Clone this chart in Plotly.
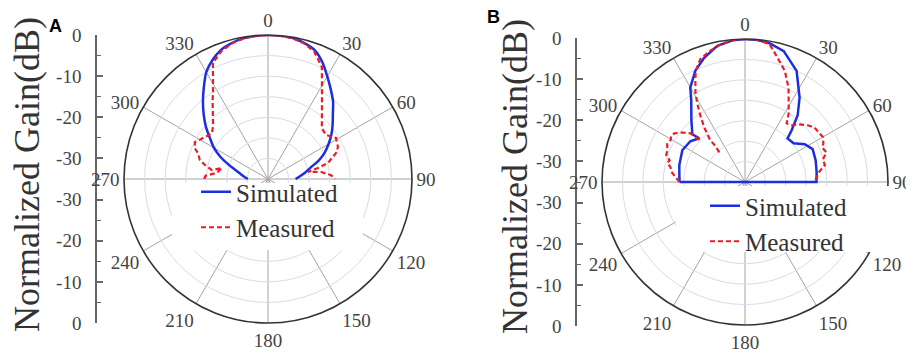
import plotly.graph_objects as go

# ---------------- data ----------------
ANGLE_TICKS = [0, 30, 60, 90, 120, 150, 180, 210, 240, 270, 300, 330]
ANGLE_LABELS = ["0", "30", "60", "90", "120", "150", "180", "210", "240", "270", "300", "330"]

GAIN_TICKVALS = [35, 25, 15, 5, -5, -15, -25, -35]
GAIN_TICKTEXT = ["0", "-10", "-20", "-30", "-30", "-20", "-10", "0"]
GAIN_MINOR = [30, 20, 10, 0, -10, -20, -30]

# Panel A - simulated
A_SIM_THETA = [270, 275, 280, 285, 290, 295, 300, 305, 310, 315, 320, 325, 330, 335, 340, 345, 350, 355,
               0, 5, 10, 15, 20, 25, 30, 35, 40, 45, 50, 55, 60, 65, 70, 75, 80, 85, 90]
A_SIM_R = [-30.1, -29.3, -28.3, -27.0, -24.8, -22.2, -19.8, -17.8, -15.3, -12.9, -10.4, -7.8, -5.0, -3.1, -1.6, -0.8, -0.3, -0.1,
           0.0, -0.05, -0.2, -0.8, -1.7, -3.7, -6.2, -8.4, -10.4, -12.7, -14.5, -16.2, -18.0, -19.8, -21.9, -24.3, -25.8, -27.2, -28.3]

# Panel A - measured
A_MEAS_THETA = [270, 273, 277, 283.5, 279, 282.5, 285.6, 290.4, 293, 296.9, 299.5, 302.2, 306, 309.4, 314.5, 318,
                321.4, 324.5, 327.7, 331.7, 334.6, 340, 345, 350, 355,
                0, 5, 10, 15, 20, 25.7, 27.9, 31.8, 38, 46.6, 52.8, 58.9, 65.4, 69.1, 75, 77.6, 80, 82.5, 86.4, 90]
A_MEAS_R = [-19.5, -19.8, -22.5, -23.5, -21.2, -19.3, -17.8, -16.8, -15.6, -15.1, -15.8, -16.3, -17.0, -17.4, -16.3, -15.0,
            -13.5, -11.8, -10.0, -6.8, -3.8, -1.9, -0.9, -0.35, -0.1,
            0.0, -0.1, -0.3, -0.9, -2.1, -4.8, -7.0, -10.1, -13.7, -17.0, -17.3, -15.7, -16.3, -17.3, -19.9, -22.6, -25.1, -22.0, -19.7, -18.7]

# Panel B - simulated
B_SIM_THETA = [270, 274, 284.4, 296.9, 306.7, 313.7, 312.2, 319, 326.6, 329.9, 335.9, 341.8, 348.5, 355,
               0, 5, 10, 16.5, 24.9, 32.9, 38.3, 42.1, 44.3, 51.5, 57.7, 64.1, 72.8, 82.1, 90, 270]
B_SIM_R = [-19.0, -18.9, -18.4, -17.8, -18.3, -19.5, -17.6, -15.0, -11.1, -8.3, -5.2, -3.0, -1.0, -0.2,
           0.0, -0.1, -0.5, -1.6, -5.0, -10.4, -14.2, -18.0, -20.1, -19.8, -17.7, -16.6, -16.9, -17.3, -17.5, -19.0]

# Panel B - measured (None = gap in the measured curve)
B_MEAS_THETA = [270, 274.1, 278, 281.3, 284, 286.1, 289, 292.3, 296, 299.3, 302, 304.6, 308.4, 311.7, 313,
                None,
                319.1, 320.5, 320.2, 323.3, 326, 328.7, 331, 333.9, 336, 340, 345, 350, 355,
                0, 5, 10, 12.4, 19.7, 24.8, 29.1, 32.5, 35.4, 39.5, 43, 48.3, 51.8, 56.8, 60, 63.7, 66, 70, 74, 78, 82, 86, 90]
B_MEAS_R = [-19.0, -17.9, -16.8, -16.4, -15.4, -15.8, -14.6, -14.5, -13.8, -14.1, -13.7, -14.0, -15.5, -17.1, -20.0,
            None,
            -25.4, -23.2, -21.7, -18.3, -15.5, -12.5, -10.0, -7.4, -5.3, -3.0, -1.8, -0.8, -0.2,
            0.0, -0.1, -0.7, -2.2, -6.1, -9.6, -13.0, -15.1, -17.4, -17.0, -15.7, -14.2, -13.4, -13.2, -13.0, -13.6,
            -14.3, -13.8, -15.2, -15.0, -16.6, -17.4, -18.0]

# ---------------- style / geometry ----------------
BLUE = "#1c2ee0"
RED = "#ec1c24"
SERIF = "Liberation Serif"
# the page body has an 8px margin: the figure is placed at (8, 8) in the window
OFF = 8
W, H = 914 - OFF, 354 - OFF


def px(x):   # window x -> paper x
    return (x - OFF) / W


def py(y):   # window y (from top) -> paper y
    return 1 - (y - OFF) / H


fig = go.Figure()

fig.add_trace(go.Scatterpolar(theta=A_SIM_THETA, r=A_SIM_R, mode="lines", name="Simulated",
                              line=dict(color=BLUE, width=2.5, shape="spline", smoothing=0.6),
                              subplot="polar", legend="legend"))
fig.add_trace(go.Scatterpolar(theta=A_MEAS_THETA, r=A_MEAS_R, mode="lines", name="Measured",
                              line=dict(color=RED, width=2.2, dash="5px,3px"), subplot="polar", legend="legend"))
fig.add_trace(go.Scatterpolar(theta=B_SIM_THETA, r=B_SIM_R, mode="lines", name="Simulated",
                              line=dict(color=BLUE, width=2.5), subplot="polar2", legend="legend2"))
fig.add_trace(go.Scatterpolar(theta=B_MEAS_THETA, r=B_MEAS_R, mode="lines", name="Measured", connectgaps=False,
                              line=dict(color=RED, width=2.2, dash="5px,3px"), subplot="polar2", legend="legend2"))

# empty traces so that the two gain scales (cartesian y axes) are rendered
fig.add_trace(go.Scatter(x=[], y=[], xaxis="x", yaxis="y", showlegend=False, hoverinfo="skip"))
fig.add_trace(go.Scatter(x=[], y=[], xaxis="x2", yaxis="y2", showlegend=False, hoverinfo="skip"))


def polar_cfg(cx, cy, rad):
    return dict(
        domain=dict(x=[px(cx - rad), px(cx + rad)], y=[py(cy + rad), py(cy - rad)]),
        bgcolor="white",
        angularaxis=dict(rotation=90, direction="clockwise", tickmode="array",
                         tickvals=ANGLE_TICKS, ticktext=ANGLE_LABELS,
                         showline=True, linecolor="#333", linewidth=1.6,
                         gridcolor="#a3a3a3", gridwidth=1, ticks="",
                         tickfont=dict(family=SERIF, size=19, color="#444")),
        radialaxis=dict(range=[-35, 0], tick0=-35, dtick=5, showticklabels=False, ticks="",
                        showline=False, gridcolor="#d9dce8", gridwidth=1),
    )


def gain_axis(cy, rad):
    return dict(domain=[py(cy + rad), py(cy - rad)], range=[-35, 35],
                tickmode="array", tickvals=GAIN_TICKVALS, ticktext=GAIN_TICKTEXT,
                showline=True, linecolor="#666", linewidth=1.5, ticks="inside", ticklen=6,
                tickcolor="#666", tickwidth=1.5, showgrid=False, zeroline=False, fixedrange=True,
                ticklabelstandoff=10,
                tickfont=dict(family=SERIF, size=19, color="#444"),
                minor=dict(tickvals=GAIN_MINOR, ticks="inside", ticklen=4, tickcolor="#666", tickwidth=1.2))


legend_common = dict(xanchor="left", yanchor="top", bgcolor="rgba(0,0,0,0)",
                     font=dict(family=SERIF, size=25, color="#333"), tracegroupgap=0)

fig.update_layout(
    width=W, height=H, margin=dict(l=0, r=0, t=0, b=0, autoexpand=False),
    paper_bgcolor="white", plot_bgcolor="white",
    polar=polar_cfg(268, 179, 144),
    polar2=polar_cfg(745, 182, 143),
    xaxis=dict(domain=[px(97), px(110)], anchor="y", visible=False, fixedrange=True),
    yaxis=dict(anchor="x", **gain_axis(179, 144)),
    xaxis2=dict(domain=[px(577), px(590)], anchor="y2", visible=False, fixedrange=True),
    yaxis2=dict(anchor="x2", **gain_axis(182, 144)),
    legend=dict(x=px(196), y=py(169), **legend_common),
    legend2=dict(x=px(705), y=py(183), **legend_common),
    shapes=[
        dict(type="rect", xref="paper", yref="paper", layer="above",
             x0=px(172), x1=px(363), y0=py(250), y1=py(183),
             fillcolor="white", line=dict(width=0)),
        dict(type="rect", xref="paper", yref="paper", layer="above",
             x0=px(676), x1=px(895), y0=py(252), y1=py(186),
             fillcolor="white", line=dict(width=0)),
    ],
    annotations=[
        dict(text="Normalized Gain(dB)", x=px(27), y=py(175), xref="paper", yref="paper",
             xanchor="center", yanchor="middle",
             textangle=-90, showarrow=False, font=dict(family=SERIF, size=36, color="#333")),
        dict(text="Normalized Gain(dB)", x=px(515), y=py(177), xref="paper", yref="paper",
             xanchor="center", yanchor="middle",
             textangle=-90, showarrow=False, font=dict(family=SERIF, size=36, color="#333")),
        dict(text="<b>A</b>", x=px(55), y=py(26), xref="paper", yref="paper", showarrow=False,
             xanchor="center", yanchor="middle",
             font=dict(family="Liberation Sans", size=18, color="black")),
        dict(text="<b>B</b>", x=px(494), y=py(17), xref="paper", yref="paper", showarrow=False,
             xanchor="center", yanchor="middle",
             font=dict(family="Liberation Sans", size=18, color="black")),
    ],
)

fig.write_html("out.html")
